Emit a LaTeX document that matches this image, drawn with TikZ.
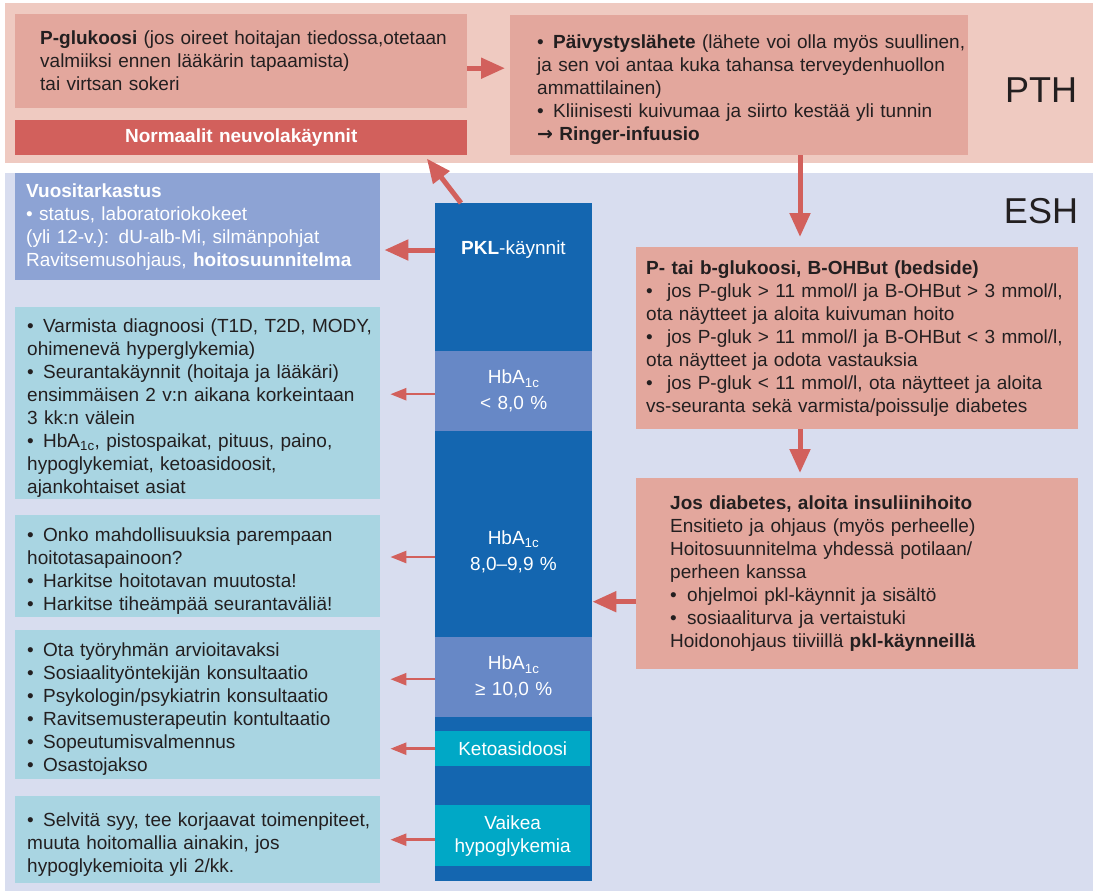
\documentclass[tikz,border=0pt]{standalone}
\usepackage{fontspec}
\setmainfont{Liberation Sans}
\newfontfamily\symfont{DejaVu Sans}
\usetikzlibrary{arrows.meta}

\definecolor{pthbg}{HTML}{EFCAC1}
\definecolor{eshbg}{HTML}{D8DDEF}
\definecolor{pinkbox}{HTML}{E3A79D}
\definecolor{redbox}{HTML}{D2605C}
\definecolor{arrowred}{HTML}{D2605C}
\definecolor{vuosibg}{HTML}{8DA3D4}
\definecolor{lightblue}{HTML}{A9D5E2}
\definecolor{darkblue}{HTML}{1466B0}
\definecolor{midblue}{HTML}{6788C6}
\definecolor{cyanbox}{HTML}{00A8C6}
\definecolor{inkdark}{HTML}{231F20}

\newcommand{\hba}{HbA\textsubscript{1c}}
\newcommand{\boxtext}[2]{\leftskip=#1\rightskip=-30pt\relax #2\par}
\newcommand{\bitem}[1][16pt]{\par\hangindent=#1\hangafter=1\noindent\makebox[#1][l]{\textbullet}}

\tikzset{
  band/.style={anchor=north west, inner sep=0, minimum width=1088pt},
  box/.style={anchor=north west, inner xsep=0, inner ysep=0, align=left, text=inkdark},
  colbox/.style={anchor=north west, inner sep=0, text width=157pt, align=center, text=white},
  bigarrow/.style={draw=arrowred, line width=5pt, -{Triangle[length=24pt,width=20pt]}},
  thinarrow/.style={draw=arrowred, line width=2.5pt, -{Triangle[length=16pt,width=12pt]}, shorten >=10pt}
}

\begin{document}
\begin{tikzpicture}[x=1pt,y=-1pt,font=\fontsize{19pt}{23pt}\selectfont]
  \useasboundingbox (0,0) rectangle (1098,895);

  \node[band, fill=pthbg, minimum height=160pt] (pthband) at (5,3) {};
  \node[band, fill=eshbg, minimum height=718pt] (eshband) at (5,173) {};
  \node[font=\fontsize{36pt}{40pt}\selectfont, text=inkdark] (pth) at (1041,90) {PTH};
  \node[font=\fontsize{36pt}{40pt}\selectfont, text=inkdark] (esh) at (1041,211) {ESH};

  % PTH
  \node[box, fill=pinkbox, text width=452pt, minimum height=94pt] (pgluk) at (15,14)
    {\boxtext{25pt}{\textbf{P-glukoosi} (jos oireet hoitajan tiedossa,otetaan\\
     valmiiksi ennen lääkärin tapaamista)\\
     tai virtsan sokeri}};
  \node[box, fill=redbox, text=white, align=center, text width=452pt, minimum height=35pt] (normaalit) at (15,120)
    {\textbf{Normaalit neuvolakäynnit}};
  \node[box, fill=pinkbox, text width=458pt, minimum height=140pt] (paiv) at (510,15)
    {\boxtext{27pt}{\bitem\textbf{Päivystyslähete} (lähete voi olla myös suullinen,\\
     ja sen voi antaa kuka tahansa terveydenhuollon\\
     ammattilainen)
     \bitem Kliinisesti kuivumaa ja siirto kestää yli tunnin\\
     {\symfont\bfseries →} \textbf{Ringer-infuusio}}};

  % ESH, left side
  \node[box, fill=vuosibg, text=white, text width=365pt, minimum height=107pt] (vuosi) at (15,173)
    {\boxtext{11pt}{\textbf{Vuositarkastus}\\
     \textbullet\ status, laboratoriokokeet\\
     (yli 12-v.): dU-alb-Mi, silmänpohjat\\
     Ravitsemusohjaus, \textbf{hoitosuunnitelma}}};
  \node[box, fill=lightblue, text width=365pt, minimum height=192pt] (lbox1) at (15,307)
    {\boxtext{12pt}{\bitem Varmista diagnoosi (T1D, T2D, MODY,\\
     ohimenevä hyperglykemia)
     \bitem Seurantakäynnit (hoitaja ja lääkäri)\\
     ensimmäisen 2 v:n aikana korkeintaan\\
     3 kk:n välein
     \bitem\hba, pistospaikat, pituus, paino,\\
     hypoglykemiat, ketoasidoosit,\\
     ajankohtaiset asiat}};
  \node[box, fill=lightblue, text width=365pt, minimum height=102pt] (lbox2) at (15,515)
    {\boxtext{12pt}{\bitem Onko mahdollisuuksia parempaan\\
     hoitotasapainoon?
     \bitem Harkitse hoitotavan muutosta!
     \bitem Harkitse tiheämpää seurantaväliä!}};
  \node[box, fill=lightblue, text width=365pt, minimum height=149pt] (lbox3) at (15,630)
    {\boxtext{12pt}{\bitem Ota työryhmän arvioitavaksi
     \bitem Sosiaalityöntekijän konsultaatio
     \bitem Psykologin/psykiatrin konsultaatio
     \bitem Ravitsemusterapeutin kontultaatio
     \bitem Sopeutumisvalmennus
     \bitem Osastojakso}};
  \node[box, fill=lightblue, text width=365pt, minimum height=87pt] (lbox4) at (15,796)
    {\boxtext{12pt}{\bitem Selvitä syy, tee korjaavat toimenpiteet,\\
     muuta hoitomallia ainakin, jos\\
     hypoglykemioita yli 2/kk.}};

  % column
  \node[anchor=north west, fill=darkblue, inner sep=0, minimum width=157pt, minimum height=678pt] (column) at (435,203) {};
  \node[colbox, anchor=center, minimum height=40pt] (pkl) at (513.5,250) {\textbf{PKL}-käynnit};
  \node[colbox, fill=midblue, minimum height=80pt] (hblow) at (435,351) {\hba\\[3pt]< 8,0 \%};
  \node[colbox, anchor=center, minimum height=60pt] (hbmid) at (513.5,552) {\hba\\[3pt]8,0–9,9 \%};
  \node[colbox, fill=midblue, minimum height=80pt] (hbhigh) at (435,637) {\hba\\[3pt]≥ 10,0 \%};
  \node[colbox, fill=cyanbox, text width=155pt, minimum height=35pt] (keto) at (435,731) {Ketoasidoosi};
  \node[colbox, fill=cyanbox, text width=155pt, minimum height=61pt] (hypo) at (435,805) {Vaikea\\hypoglykemia};

  % ESH, right side
  \node[box, fill=pinkbox, text width=442pt, minimum height=182pt] (ptai) at (636,247)
    {\boxtext{10pt}{\textbf{P- tai b-glukoosi, B-OHBut (bedside)}
     \bitem[21pt]jos P-gluk > 11 mmol/l ja B-OHBut > 3 mmol/l,\\
     ota näytteet ja aloita kuivuman hoito
     \bitem[21pt]jos P-gluk > 11 mmol/l ja B-OHBut < 3 mmol/l,\\
     ota näytteet ja odota vastauksia
     \bitem[21pt]jos P-gluk < 11 mmol/l, ota näytteet ja aloita\\
     vs-seuranta sekä varmista/poissulje diabetes}};
  \node[box, fill=pinkbox, text width=442pt, minimum height=191pt] (jos) at (636,478)
    {\boxtext{34pt}{\textbf{Jos diabetes, aloita insuliinihoito}\\
     Ensitieto ja ohjaus (myös perheelle)\\
     Hoitosuunnitelma yhdessä potilaan/\\
     perheen kanssa\\
     \makebox[17pt][l]{\textbullet}ohjelmoi pkl-käynnit ja sisältö\\
     \makebox[17pt][l]{\textbullet}sosiaaliturva ja vertaistuki\\
     Hoidonohjaus tiiviillä \textbf{pkl-käynneillä}}};

  \coordinate (drop) at (800,0);

  \draw[bigarrow, shorten >=5pt] ([yshift=-7pt]pgluk.east) -- ([yshift=-7pt]pgluk.east -| paiv.west);
  \draw[bigarrow, shorten >=10pt] (paiv.south -| drop) -- (ptai.north -| drop);
  \draw[bigarrow, shorten >=5pt] (ptai.south -| drop) -- (jos.north -| drop);
  \draw[bigarrow] ([yshift=-28pt]jos.west) -- ([yshift=-28pt]jos.west -| column.east);
  \draw[bigarrow, shorten >=4pt] ([xshift=26pt]column.north west) -- ([xshift=-43pt]normaalit.south east);
  \draw[bigarrow, shorten >=4pt] (pkl.west) -- (pkl.west -| vuosi.east);

  \draw[thinarrow] ([yshift=-3pt]hblow.west) -- ([yshift=-3pt]hblow.west -| lbox1.east);
  \draw[thinarrow] ([yshift=-5pt]hbmid.west) -- ([yshift=-5pt]hbmid.west -| lbox2.east);
  \draw[thinarrow] ([yshift=-2pt]hbhigh.west) -- ([yshift=-2pt]hbhigh.west -| lbox3.east);
  \draw[thinarrow] (keto.west) -- (keto.west -| lbox3.east);
  \draw[thinarrow] ([yshift=-4pt]hypo.west) -- ([yshift=-4pt]hypo.west -| lbox4.east);
\end{tikzpicture}
\end{document}
